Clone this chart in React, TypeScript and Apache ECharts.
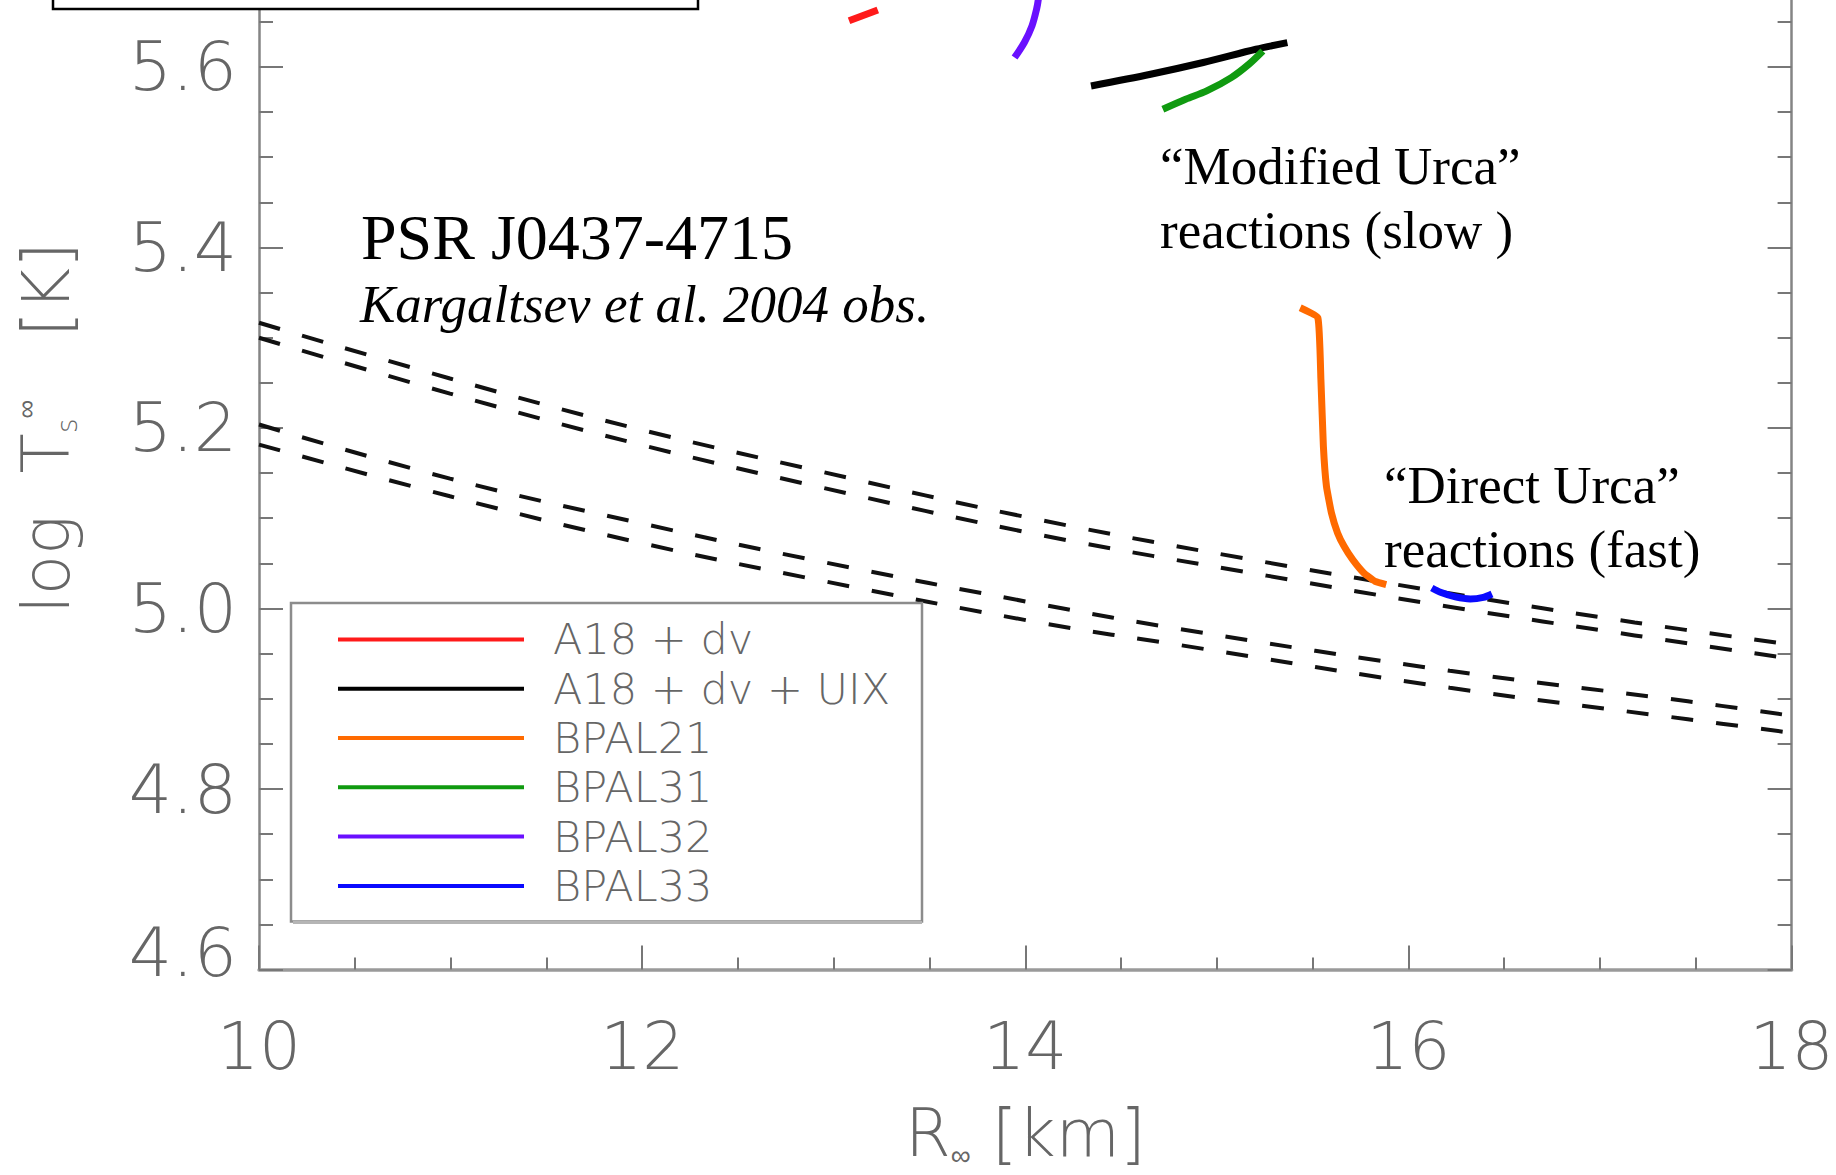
import React, { useEffect, useRef } from 'react';
import * as echarts from 'echarts';

// ---- axis ranges / ticks ----
const xMin = 10;
const xMax = 18;
const xInterval = 2;
const yMin = 4.6;
const yMax = 5.8;
const yInterval = 0.2;

// ---- model curves (R_inf [km], log Ts_inf [K]) ----
const redX = [13.08, 13.23];
const redY = [5.651, 5.663];

const blackX = [14.343, 14.654, 14.929, 15.204, 15.368];
const blackY = [5.5788, 5.5918, 5.6048, 5.6195, 5.6269];

const orangeX = [15.435, 15.527, 15.543, 15.556, 15.572, 15.598, 15.63, 15.664, 15.709, 15.767, 15.826, 15.884];
const orangeY = [5.3332, 5.3221, 5.2537, 5.1797, 5.1354, 5.1059, 5.0837, 5.0689, 5.0541, 5.0394, 5.03, 5.0264];

const greenX = [14.718, 14.837, 14.947, 15.075, 15.167, 15.24];
const greenY = [5.553, 5.5641, 5.5733, 5.5881, 5.6029, 5.6176];

const purpleX = [13.944, 13.995, 14.035, 14.059, 14.068, 14.074];
const purpleY = [5.6103, 5.627, 5.6454, 5.664, 5.6749, 5.69];

const blueX = [16.122, 16.167, 16.245, 16.323, 16.391, 16.436];
const blueY = [5.0227, 5.0179, 5.0128, 5.0105, 5.0123, 5.0161];

// ---- observational bands (dashed) ----
const dashUpperX = [10, 10.997, 11.942, 12.886, 14.07, 15.26, 16.22, 17.181, 18];
const dashLine1 = [5.3165, 5.2548, 5.2008, 5.1539, 5.0984, 5.0511, 5.0167, 4.9846, 4.9599];
const dashLine2 = [5.2999, 5.2381, 5.1841, 5.1365, 5.0818, 5.0364, 5.0017, 4.9702, 4.9443];
const dashLowerX = [10, 10.997, 11.956, 12.901, 14.092, 14.812, 16.216, 17.458, 18];
const dashLine3 = [5.2038, 5.1439, 5.0962, 5.0533, 5.0042, 4.977, 4.931, 4.8972, 4.8812];
const dashLine4 = [5.1816, 5.1243, 5.0744, 5.0323, 4.9837, 4.9593, 4.9122, 4.8773, 4.8623];

const legendNames = ['A18 + dv', 'A18 + dv + UIX', 'BPAL21', 'BPAL31', 'BPAL32', 'BPAL33'];
const seriesColors = ['#ff1a1a', '#000000', '#ff6a00', '#109a10', '#6a10ff', '#0a0aff'];
const seriesSmooth = [0, 0.3, 0.12, 0.3, 0.3, 0.3];

const zip = (xs: number[], ys: number[]) => xs.map((x, i) => [x, ys[i]]);

const AXIS_FONT = "'DejaVu Sans', sans-serif";
const SERIF = "'Liberation Serif', 'Times New Roman', serif";
const GRAY = '#666666';

export default function App() {
  const ref = useRef<HTMLDivElement>(null);

  useEffect(() => {
    if (!ref.current) return;
    const chart = echarts.init(ref.current, undefined, { renderer: 'svg' });

    const modelData = [
      zip(redX, redY),
      zip(blackX, blackY),
      zip(orangeX, orangeY),
      zip(greenX, greenY),
      zip(purpleX, purpleY),
      zip(blueX, blueY),
    ];

    const modelSeries = legendNames.map((name, i) => ({
      name,
      type: 'line',
      data: modelData[i],
      showSymbol: false,
      symbol: 'none',
      smooth: seriesSmooth[i],
      color: seriesColors[i],
      lineStyle: { color: seriesColors[i], width: 7, cap: 'butt', join: 'round' },
      z: 3,
    }));

    const dashSeries = [
      zip(dashUpperX, dashLine1),
      zip(dashUpperX, dashLine2),
      zip(dashLowerX, dashLine3),
      zip(dashLowerX, dashLine4),
    ].map((data, i) => ({
      name: 'obs' + i,
      type: 'line',
      data,
      showSymbol: false,
      symbol: 'none',
      smooth: 0.4,
      lineStyle: { color: '#111', width: 4, type: [22, 23] },
      z: 2,
    }));

    const axisLineStyle = { color: '#858585', width: 2.5 };
    const tickStyle = { color: '#777', width: 2 };

    const yLabel = {
      margin: 22,
      fontSize: 68,
      color: GRAY,
      fontFamily: AXIS_FONT,
      fontWeight: 200,
      showMaxLabel: false,
      formatter: (v: number) => (Math.abs(v - yMin) < 1e-6 ? '{low|' + v.toFixed(1) + '}' : v.toFixed(1)),
      rich: {
        low: { fontSize: 68, color: GRAY, fontFamily: AXIS_FONT, fontWeight: 200, padding: [0, 0, 34, 0] },
      },
    };

    const option: any = {
      animation: false,
      backgroundColor: '#ffffff',
      grid: { left: 259, right: 44.4, top: -113.7, bottom: 205.4, outerBoundsMode: 'none' },
      legend: {
        data: legendNames,
        orient: 'vertical',
        left: 338,
        top: 617.4,
        itemWidth: 186,
        itemHeight: 4,
        itemGap: 5.3,
        icon: 'rect',
        padding: 0,
        selectedMode: false,
        z: 6,
        textStyle: {
          fontSize: 43,
          lineHeight: 44,
          color: GRAY,
          fontFamily: AXIS_FONT,
          fontWeight: 200,
          padding: [0, 0, 0, 24],
        },
      },
      xAxis: [
        {
          type: 'value',
          position: 'bottom',
          min: xMin,
          max: xMax,
          interval: xInterval,
          axisLine: { show: true, onZero: false, lineStyle: { color: '#9a9a9a', width: 3.5 } },
          axisTick: { show: true, inside: true, length: 24, lineStyle: tickStyle },
          minorTick: { show: true, splitNumber: 4, length: 12, lineStyle: tickStyle },
          splitLine: { show: false },
          axisLabel: { margin: 44, fontSize: 66, color: GRAY, fontFamily: AXIS_FONT, fontWeight: 200 },
          name: '{a|R}{b|∞}{a| [km]}',
          nameLocation: 'middle',
          nameGap: 128,
          nameMoveOverlap: false,
          nameTextStyle: {
            rich: {
              a: { fontSize: 66, lineHeight: 72, color: GRAY, fontFamily: AXIS_FONT, fontWeight: 200 },
              b: { fontSize: 28, lineHeight: 72, color: GRAY, fontFamily: AXIS_FONT, fontWeight: 200, verticalAlign: 'bottom' },
            },
          },
        },
        {
          type: 'value',
          position: 'top',
          min: xMin,
          max: xMax,
          interval: xInterval,
          axisLine: { show: true, onZero: false, lineStyle: axisLineStyle },
          axisTick: { show: true, inside: true, length: 24, lineStyle: tickStyle },
          minorTick: { show: true, splitNumber: 4, length: 12, lineStyle: tickStyle },
          splitLine: { show: false },
          axisLabel: { show: false },
        },
      ],
      yAxis: [
        {
          type: 'value',
          position: 'left',
          min: yMin,
          max: yMax,
          interval: yInterval,
          axisLine: { show: true, onZero: false, lineStyle: axisLineStyle },
          axisTick: { show: true, inside: true, length: 24, lineStyle: tickStyle },
          minorTick: { show: true, splitNumber: 4, length: 14, lineStyle: tickStyle },
          splitLine: { show: false },
          axisLabel: yLabel,
          name: '{a|log  T}{b|s}{c|∞}{a|   [K]}',
          nameLocation: 'middle',
          nameRotate: 90,
          nameGap: 168,
          nameMoveOverlap: false,
          nameTextStyle: {
            rich: {
              a: { fontSize: 66, lineHeight: 90, color: GRAY, fontFamily: AXIS_FONT, fontWeight: 200 },
              b: { fontSize: 28, lineHeight: 90, color: GRAY, fontFamily: AXIS_FONT, fontWeight: 200, verticalAlign: 'bottom', padding: [0, 0, 10, 0] },
              c: { fontSize: 26, lineHeight: 90, color: GRAY, fontFamily: AXIS_FONT, fontWeight: 200, verticalAlign: 'top', padding: [12, 0, 0, 0] },
            },
          },
        },
        {
          type: 'value',
          position: 'right',
          min: yMin,
          max: yMax,
          interval: yInterval,
          axisLine: { show: true, onZero: false, lineStyle: axisLineStyle },
          axisTick: { show: true, inside: true, length: 24, lineStyle: tickStyle },
          minorTick: { show: true, splitNumber: 4, length: 14, lineStyle: tickStyle },
          splitLine: { show: false },
          axisLabel: { show: false },
        },
      ],
      graphic: [
        {
          type: 'rect',
          z: 10,
          shape: { x: 53, y: -40, width: 645, height: 49 },
          style: { fill: '#ffffff', stroke: '#000000', lineWidth: 2.5 },
        },
        {
          type: 'rect',
          z: 5,
          shape: { x: 291, y: 603, width: 631, height: 318.6 },
          style: { fill: '#ffffff', stroke: '#8c8c8c', lineWidth: 2.5 },
        },
        {
          type: 'line',
          z: 5,
          shape: { x1: 293, y1: 922.5, x2: 922, y2: 922.5 },
          style: { stroke: '#b5b5b5', lineWidth: 3 },
        },
        {
          type: 'text',
          z: 10,
          x: 361,
          y: 237,
          style: { text: 'PSR J0437-4715', font: `64px ${SERIF}`, fill: '#000', verticalAlign: 'middle' },
        },
        {
          type: 'text',
          z: 10,
          x: 360,
          y: 304,
          style: { text: 'Kargaltsev et al. 2004 obs.', font: `italic 53px ${SERIF}`, fill: '#000', verticalAlign: 'middle' },
        },
        {
          type: 'text',
          z: 10,
          x: 1160,
          y: 166,
          style: { text: '“Modified Urca”', font: `53px ${SERIF}`, fill: '#000', verticalAlign: 'middle' },
        },
        {
          type: 'text',
          z: 10,
          x: 1160,
          y: 230,
          style: { text: 'reactions (slow )', font: `53px ${SERIF}`, fill: '#000', verticalAlign: 'middle' },
        },
        {
          type: 'text',
          z: 10,
          x: 1384,
          y: 485,
          style: { text: '“Direct Urca”', font: `53px ${SERIF}`, fill: '#000', verticalAlign: 'middle' },
        },
        {
          type: 'text',
          z: 10,
          x: 1384,
          y: 549,
          style: { text: 'reactions (fast)', font: `53px ${SERIF}`, fill: '#000', verticalAlign: 'middle' },
        },
      ],
      series: [...dashSeries, ...modelSeries],
    };

    chart.setOption(option);
    return () => chart.dispose();
  }, []);

  return (
    <div
      ref={ref}
      style={{ position: 'absolute', left: 0, top: 0, width: 1836, height: 1175, background: '#fff' }}
    />
  );
}
